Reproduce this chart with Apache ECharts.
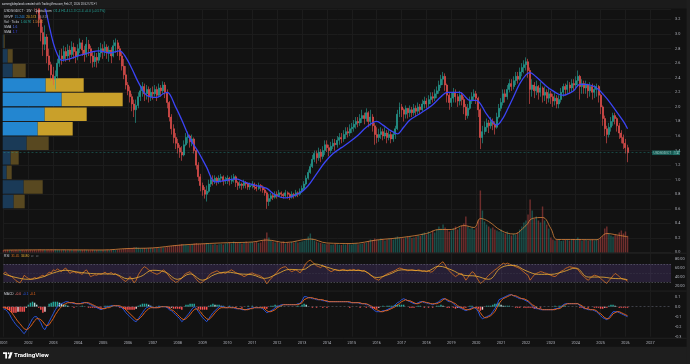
<!DOCTYPE html>
<html><head><meta charset="utf-8"><title>chart</title>
<script src="https://cdn.jsdelivr.net/npm/echarts@6.0.0/dist/echarts.min.js"></script>
<style>html,body{margin:0;padding:0;background:#121212;overflow:hidden}#chart{width:690px;height:364px}</style>
</head><body><div id="chart"></div>
<script>
// ---------------- data (monthly) ----------------
const symbolName = 'USDSGD/CT';
const firstOpen = 4.00;
const closes = [
3.95,3.90,3.82,3.86,3.78,3.74,3.70,3.66,3.72,3.64,3.60,3.58,
3.55,3.50,3.46,3.42,3.38,3.20,3.02,2.86,2.96,2.70,2.58,2.44,
2.38,2.42,2.60,2.70,2.66,2.76,2.70,2.78,2.72,2.82,2.76,2.70,
2.80,2.88,2.78,2.72,2.86,2.80,2.70,2.62,2.68,2.64,2.74,2.80,
2.76,2.82,2.74,2.78,2.70,2.84,2.88,2.80,2.70,2.56,2.44,2.30,
2.22,2.14,2.04,1.96,2.02,2.14,2.22,2.28,2.18,2.24,2.14,2.20,
2.18,2.24,2.16,2.26,2.22,2.30,2.20,2.06,1.86,1.70,1.58,1.50,
1.44,1.38,1.34,1.48,1.58,1.60,1.52,1.56,1.40,1.20,1.04,0.92,
0.86,0.80,0.84,0.94,1.00,0.98,1.02,0.98,1.02,1.04,0.98,1.00,
1.02,0.98,1.00,1.04,0.96,0.92,0.94,0.92,0.96,0.94,0.90,0.92,
0.94,0.90,0.88,0.92,0.90,0.86,0.82,0.70,0.74,0.78,0.76,0.80,
0.78,0.82,0.80,0.78,0.82,0.80,0.76,0.80,0.78,0.82,0.80,0.84,
0.88,0.94,1.02,1.10,1.18,1.28,1.36,1.30,1.38,1.32,1.40,1.48,
1.44,1.40,1.46,1.50,1.48,1.54,1.58,1.56,1.62,1.66,1.64,1.70,
1.72,1.76,1.80,1.78,1.84,1.88,1.84,1.92,1.80,1.86,1.74,1.62,
1.58,1.62,1.66,1.60,1.64,1.58,1.62,1.56,1.62,1.70,1.90,2.00,
1.96,1.90,1.98,1.92,1.96,1.92,1.98,1.94,2.00,1.96,2.04,2.08,
2.04,2.10,2.14,2.12,2.18,2.22,2.30,2.38,2.42,2.30,2.16,2.06,
2.12,2.20,2.14,2.08,2.16,2.10,2.00,1.88,1.98,2.08,2.14,2.18,
2.12,1.96,1.58,1.66,1.72,1.78,1.74,1.80,1.76,1.72,1.86,1.98,
2.06,2.18,2.14,2.24,2.32,2.28,2.36,2.42,2.38,2.48,2.54,2.58,
2.62,2.50,2.24,2.30,2.22,2.28,2.20,2.26,2.16,2.20,2.12,2.18,
2.14,2.08,2.12,2.04,2.10,2.20,2.28,2.24,2.30,2.26,2.32,2.30,
2.36,2.42,2.28,2.32,2.26,2.30,2.22,2.28,2.20,2.24,2.28,2.16,
2.00,1.84,1.70,1.62,1.72,1.80,1.88,1.84,1.74,1.64,1.58,1.50,
1.44,1.37];
const highs = [
4.05,4.00,3.95,3.95,3.90,3.84,3.80,3.76,3.80,3.76,3.70,3.68,
3.65,3.60,3.56,3.52,3.48,3.45,3.25,3.10,3.12,3.00,2.80,2.62,
2.55,2.50,2.66,2.78,2.80,2.84,2.82,2.86,2.84,2.90,2.88,2.82,
2.86,2.94,2.92,2.84,2.96,2.92,2.84,2.76,2.76,2.74,2.82,2.88,
2.86,2.90,2.86,2.84,2.82,2.92,2.94,2.92,2.84,2.76,2.66,2.56,
2.34,2.28,2.18,2.10,2.10,2.20,2.30,2.34,2.32,2.30,2.28,2.26,
2.28,2.30,2.28,2.32,2.30,2.35,2.34,2.24,2.08,1.90,1.76,1.64,
1.56,1.48,1.46,1.54,1.64,1.66,1.62,1.62,1.58,1.42,1.24,1.08,
0.96,0.90,0.92,1.00,1.06,1.06,1.06,1.04,1.06,1.08,1.06,1.04,
1.06,1.04,1.06,1.08,1.06,0.98,0.98,0.96,1.00,0.98,0.96,0.96,
0.98,0.96,0.94,0.96,0.94,0.92,0.90,0.84,0.80,0.82,0.82,0.84,
0.84,0.86,0.84,0.82,0.86,0.84,0.82,0.84,0.82,0.86,0.84,0.88,
0.92,0.98,1.06,1.14,1.22,1.34,1.40,1.40,1.44,1.42,1.46,1.54,
1.54,1.48,1.52,1.56,1.56,1.60,1.64,1.64,1.68,1.72,1.72,1.76,
1.78,1.82,1.86,1.86,1.90,1.96,1.92,1.98,1.94,1.96,1.90,1.78,
1.72,1.70,1.72,1.70,1.72,1.68,1.68,1.66,1.66,1.74,1.96,2.06,
2.04,1.98,2.02,1.98,2.02,2.00,2.04,2.02,2.06,2.04,2.10,2.14,
2.12,2.16,2.20,2.20,2.24,2.28,2.36,2.44,2.48,2.46,2.32,2.20,
2.20,2.26,2.24,2.18,2.22,2.20,2.14,2.04,2.04,2.14,2.20,2.24,
2.22,2.14,1.98,1.74,1.80,1.84,1.82,1.86,1.84,1.80,1.92,2.04,
2.12,2.24,2.24,2.30,2.38,2.38,2.42,2.48,2.48,2.54,2.60,2.64,
2.68,2.66,2.54,2.38,2.34,2.36,2.30,2.34,2.28,2.28,2.24,2.26,
2.22,2.18,2.20,2.16,2.16,2.26,2.32,2.32,2.36,2.34,2.38,2.38,
2.42,2.50,2.44,2.38,2.36,2.36,2.32,2.34,2.32,2.30,2.32,2.30,
2.18,2.02,1.88,1.74,1.78,1.86,1.92,1.92,1.86,1.78,1.68,1.62,
1.56,1.48];
const lows = [
3.85,3.82,3.74,3.76,3.70,3.66,3.62,3.58,3.62,3.56,3.52,3.50,
3.46,3.42,3.38,3.34,3.28,3.10,2.90,2.70,2.78,2.60,2.50,2.36,
2.30,2.24,2.38,2.55,2.58,2.62,2.62,2.64,2.62,2.68,2.66,2.60,
2.64,2.74,2.70,2.62,2.68,2.70,2.60,2.54,2.55,2.54,2.60,2.68,
2.66,2.70,2.66,2.62,2.60,2.68,2.74,2.70,2.64,2.50,2.38,2.24,
2.16,2.06,1.94,1.86,1.78,1.98,2.08,2.14,2.08,2.10,2.06,2.08,
2.10,2.14,2.08,2.14,2.14,2.18,2.12,1.98,1.80,1.62,1.50,1.42,
1.36,1.30,1.26,1.32,1.46,1.50,1.44,1.46,1.36,1.14,0.98,0.84,
0.78,0.74,0.70,0.82,0.90,0.92,0.94,0.92,0.94,0.96,0.92,0.94,
0.94,0.92,0.94,0.96,0.90,0.86,0.88,0.86,0.88,0.88,0.86,0.86,
0.88,0.86,0.84,0.86,0.84,0.82,0.78,0.60,0.64,0.70,0.72,0.74,
0.74,0.76,0.76,0.74,0.76,0.74,0.72,0.74,0.74,0.76,0.76,0.78,
0.82,0.86,0.92,1.00,1.08,1.16,1.24,1.22,1.26,1.24,1.28,1.34,
1.38,1.32,1.36,1.42,1.40,1.44,1.48,1.50,1.52,1.56,1.58,1.60,
1.64,1.66,1.70,1.72,1.74,1.78,1.76,1.80,1.72,1.74,1.66,1.48,
1.50,1.52,1.56,1.54,1.56,1.50,1.54,1.50,1.52,1.56,1.68,1.86,
1.86,1.80,1.84,1.84,1.86,1.86,1.88,1.86,1.90,1.90,1.94,1.98,
1.98,2.00,2.04,2.06,2.08,2.12,2.18,2.26,2.30,2.22,2.06,1.96,
2.00,2.06,2.06,2.00,2.02,2.02,1.90,1.82,1.84,1.96,2.04,2.08,
2.04,1.86,1.42,1.50,1.62,1.66,1.64,1.70,1.68,1.62,1.70,1.84,
1.94,2.02,2.06,2.10,2.20,2.22,2.24,2.30,2.32,2.36,2.42,2.46,
2.50,2.40,2.04,2.14,2.12,2.16,2.10,2.14,2.06,2.08,2.04,2.06,
2.04,2.00,2.02,1.98,1.98,2.06,2.14,2.16,2.18,2.18,2.20,2.22,
2.24,2.28,2.10,2.18,2.18,2.18,2.12,2.14,2.10,2.12,2.14,2.06,
1.90,1.74,1.60,1.50,1.58,1.66,1.74,1.76,1.66,1.56,1.50,1.42,
1.36,1.24];
const volumes = [
250,220,260,230,240,210,250,230,260,240,220,250,
230,260,240,250,220,270,300,260,280,250,270,290,
280,300,260,250,240,270,250,230,260,240,250,270,
260,240,250,280,260,240,230,260,250,240,260,250,
260,250,270,240,260,280,260,270,300,320,350,380,
420,400,450,520,560,480,430,410,450,420,440,460,
450,430,460,440,470,500,520,560,600,650,700,720,
750,780,850,800,760,720,780,820,900,950,880,850,
900,860,950,880,820,800,850,780,820,860,800,900,
950,1000,900,1100,1000,950,1050,900,1000,1100,950,1000,
1050,1000,1100,950,1000,1200,1400,2000,1500,1200,1100,1000,
1050,950,1000,1100,900,1000,950,1050,1000,1100,1000,1050,
1100,1200,1300,1600,1900,1400,1200,1100,1000,950,900,850,
820,860,780,800,850,820,780,760,820,800,850,820,
800,850,900,820,860,900,950,1000,1150,1300,1250,1400,
1300,1250,1400,1350,1200,1300,1400,1350,1300,1500,1600,1450,
1500,1400,1500,1600,1550,1450,1500,1600,1700,1650,1900,2000,
1800,2100,1900,2200,2000,2300,2600,2400,2800,2500,2300,2100,
2200,2400,2600,2300,2500,2700,2900,3600,2600,2400,2500,2300,
2500,3200,6200,4200,3100,2800,2600,2400,2500,2300,2200,2100,
2300,2000,1900,2100,1800,1700,1900,1800,2000,2300,2600,3000,
3200,3800,5300,4200,3400,3600,3200,3000,4600,3200,2800,2400,
1500,1300,1200,1250,1300,1150,1200,1300,1250,1200,1300,1350,
1300,1500,1350,1200,1250,1300,1200,1250,1300,1200,1350,1300,
1500,1700,2400,2600,1900,1700,1600,1800,1700,2000,2200,1900,
2100,1667];
const volMaMonths = ['2001-01','2003-01','2005-01','2006-01','2007-01','2008-01','2009-01','2010-01','2011-01','2011-08','2012-05','2013-05','2014-01','2015-01','2016-01','2017-01','2018-01','2018-07','2019-01','2019-07','2019-12','2020-03','2020-07','2021-01','2021-07','2022-01','2022-04','2022-09','2023-01','2023-04','2024-01','2024-11','2025-04','2025-09','2026-02'];
const volMaValues = [240,270,255,400,460,720,870,980,1050,1250,1000,1350,950,900,1250,1500,1900,2300,2300,2700,2500,3400,3100,2200,1850,2700,3400,3500,2400,1300,1300,1280,1900,1750,1568];
const smaMonths = ['2002-07','2002-09','2002-11','2003-01','2003-03','2003-05','2003-09','2004-01','2004-07','2004-11','2005-04','2005-09','2005-12','2006-03','2006-06','2006-10','2007-03','2007-06','2007-08','2007-12','2008-03','2008-07','2008-11','2009-03','2009-07','2009-12','2010-05','2010-10','2011-04','2011-08','2011-12','2012-05','2012-12','2013-04','2013-08','2013-12','2014-04','2014-08','2014-12','2015-04','2015-08','2016-01','2016-04','2016-08','2016-11','2017-02','2017-05','2017-10','2018-04','2018-08','2018-11','2019-05','2019-10','2020-01','2020-06','2020-09','2020-11','2021-02','2021-04','2021-07','2021-10','2022-01','2022-03','2022-06','2022-08','2022-11','2023-02','2023-05','2023-07','2023-10','2023-12','2024-03','2024-06','2024-09','2024-12','2025-02','2025-05','2025-09','2025-12','2026-02'];
const smaValues = [3.62,3.38,3.12,2.88,2.72,2.64,2.66,2.70,2.75,2.77,2.74,2.77,2.68,2.52,2.34,2.16,2.13,2.18,2.20,2.00,1.82,1.56,1.38,1.17,0.97,0.99,1.01,0.96,0.91,0.88,0.79,0.75,0.82,0.92,1.08,1.24,1.36,1.44,1.52,1.61,1.72,1.80,1.75,1.67,1.63,1.72,1.82,1.91,2.03,2.14,2.20,2.20,2.09,2.09,1.90,1.79,1.75,1.85,1.96,2.14,2.32,2.44,2.47,2.41,2.36,2.28,2.22,2.17,2.16,2.19,2.22,2.31,2.31,2.29,2.24,2.18,2.08,1.92,1.80,1.70];
const rsi = [
49,52,47,44,42,38,33,30,28,36,45,41,
38,36,37,40,38,40,43,45,42,47,52,50,
57,55,59,56,53,58,61,55,49,52,53,50,
51,49,47,54,57,50,42,44,46,45,48,47,
49,52,48,49,51,47,49,45,42,38,34,31,
36,42,36,28,34,46,53,60,64,61,57,54,
51,49,47,49,52,57,54,48,42,36,33,29,
31,35,38,45,49,51,53,48,42,36,31,28,
30,34,38,44,49,51,53,55,52,49,51,49,
52,55,57,54,51,49,47,45,42,44,47,49,
50,48,46,45,43,40,34,26,32,38,42,47,
52,58,61,63,64,60,56,53,55,57,54,50,
56,64,72,76,79,74,70,66,64,62,66,64,
60,56,53,55,58,56,55,57,58,56,55,57,
56,58,55,57,56,54,56,52,49,45,42,38,
36,34,38,42,45,48,50,52,54,56,59,61,
60,58,57,55,56,57,56,55,57,56,54,55,
53,54,52,53,58,63,68,72,75,68,60,55,
50,46,42,45,48,49,42,34,40,47,53,50,
42,34,27,30,34,40,45,49,53,57,60,64,
68,72,70,72,70,68,66,64,62,60,56,52,
48,45,34,40,46,49,51,53,52,50,49,47,
45,43,42,45,50,54,56,60,62,64,63,62,
60,58,52,46,42,37,34,38,43,45,44,42,
38,34,30,27,33,38,44,49,46,42,38,36,
35,31.45];
const rsiMaMonths = ['2001-01','2001-07','2002-01','2002-07','2003-01','2003-07','2004-01','2004-07','2005-01','2005-07','2006-01','2006-07','2007-01','2007-07','2008-01','2008-07','2009-01','2009-07','2010-01','2010-07','2011-01','2011-07','2012-01','2012-07','2013-01','2013-07','2014-01','2014-07','2015-01','2015-07','2016-01','2016-07','2017-01','2017-07','2018-01','2018-07','2019-01','2019-07','2020-01','2020-07','2021-01','2021-07','2022-01','2022-07','2023-01','2023-07','2024-01','2024-07','2025-01','2025-07','2025-12','2026-02'];
const rsiMaValues = [48,40,36,40,50,56,52,49,48,47,37,42,56,52,36,48,34,47,52,48,46,38,48,58,57,70,63,56,56,54,40,47,57,56,54,65,57,45,43,36,62,67,55,47,47,53,61,41,41,38,37,34.8];
const macd = [
-0.02,-0.03,-0.05,-0.08,-0.12,-0.15,-0.18,-0.20,-0.22,-0.25,-0.27,-0.24,
-0.20,-0.16,-0.12,-0.10,-0.10,-0.13,-0.16,-0.21,-0.23,-0.19,-0.15,-0.11,
-0.07,-0.03,0.00,0.02,0.03,0.04,0.05,0.05,0.04,0.04,0.03,0.03,
0.03,0.03,0.04,0.04,0.04,0.03,0.02,0.01,0.00,-0.01,-0.02,-0.03,
-0.02,-0.01,0.00,0.00,0.01,0.01,0.01,0.01,0.00,-0.01,-0.03,-0.06,
-0.08,-0.10,-0.12,-0.14,-0.15,-0.12,-0.09,-0.06,-0.03,-0.01,0.00,0.00,
-0.01,-0.01,-0.01,0.00,0.00,0.00,0.00,-0.01,-0.03,-0.04,-0.06,-0.08,
-0.10,-0.12,-0.15,-0.13,-0.10,-0.08,-0.05,-0.02,0.00,-0.02,-0.05,-0.08,
-0.11,-0.13,-0.15,-0.12,-0.09,-0.06,-0.04,-0.02,0.00,0.00,0.00,-0.01,
-0.01,0.00,-0.01,-0.01,-0.02,-0.02,-0.02,-0.03,-0.03,-0.03,-0.02,-0.02,
-0.01,-0.01,-0.01,-0.01,-0.01,-0.02,-0.04,-0.06,-0.05,-0.04,-0.03,-0.01,
0.00,0.01,0.02,0.02,0.02,0.02,0.02,0.02,0.02,0.02,0.03,0.03,
0.06,0.10,0.10,0.09,0.09,0.08,0.08,0.07,0.07,0.07,0.06,0.06,
0.05,0.05,0.05,0.05,0.05,0.05,0.05,0.05,0.05,0.05,0.05,0.04,
0.04,0.04,0.04,0.04,0.03,0.03,0.03,0.02,0.02,0.00,-0.02,-0.04,
-0.05,-0.05,-0.05,-0.04,-0.04,-0.03,-0.02,-0.01,0.00,0.02,0.04,0.05,
0.07,0.08,0.07,0.06,0.05,0.04,0.03,0.03,0.04,0.05,0.05,0.04,
0.04,0.03,0.03,0.02,0.03,0.04,0.05,0.07,0.08,0.08,0.06,0.05,
0.05,0.03,0.01,0.00,-0.01,-0.02,-0.03,-0.04,-0.03,-0.02,-0.01,-0.01,
-0.02,-0.05,-0.10,-0.12,-0.11,-0.10,-0.09,-0.08,-0.05,-0.02,0.02,0.07,
0.08,0.09,0.10,0.11,0.12,0.12,0.11,0.10,0.09,0.08,0.08,0.07,
0.06,0.05,0.03,0.01,-0.01,-0.02,-0.02,-0.03,-0.03,-0.03,-0.03,-0.03,
-0.03,-0.03,-0.02,-0.02,-0.01,0.00,0.02,0.03,0.03,0.03,0.03,0.03,
0.03,0.03,0.01,0.00,-0.02,-0.02,-0.03,-0.03,-0.03,-0.04,-0.05,-0.07,
-0.09,-0.11,-0.12,-0.13,-0.11,-0.08,-0.05,-0.05,-0.05,-0.06,-0.07,-0.08,
-0.09,-0.10];
const macdSignal = [
-0.01,-0.01,-0.02,-0.04,-0.06,-0.09,-0.12,-0.15,-0.17,-0.20,-0.22,-0.23,
-0.22,-0.20,-0.17,-0.14,-0.12,-0.12,-0.13,-0.15,-0.18,-0.19,-0.18,-0.15,
-0.12,-0.08,-0.05,-0.02,0.00,0.02,0.03,0.04,0.04,0.04,0.04,0.03,
0.03,0.03,0.03,0.04,0.04,0.04,0.03,0.02,0.01,0.00,-0.01,-0.02,
-0.02,-0.02,-0.01,-0.01,0.00,0.01,0.01,0.01,0.01,0.00,-0.01,-0.03,
-0.05,-0.07,-0.09,-0.11,-0.13,-0.13,-0.11,-0.09,-0.06,-0.04,-0.02,-0.01,
-0.01,-0.01,-0.01,-0.01,0.00,0.00,0.00,0.00,-0.01,-0.03,-0.04,-0.06,
-0.08,-0.10,-0.12,-0.13,-0.12,-0.10,-0.08,-0.05,-0.03,-0.02,-0.03,-0.05,
-0.08,-0.10,-0.12,-0.13,-0.11,-0.09,-0.06,-0.04,-0.02,-0.01,-0.01,-0.01,
-0.01,-0.01,-0.01,-0.01,-0.01,-0.02,-0.02,-0.02,-0.03,-0.03,-0.03,-0.02,
-0.02,-0.01,-0.01,-0.01,-0.01,-0.01,-0.02,-0.04,-0.05,-0.05,-0.04,-0.03,
-0.01,0.00,0.01,0.02,0.02,0.02,0.02,0.02,0.02,0.02,0.02,0.03,
0.04,0.07,0.08,0.09,0.09,0.09,0.08,0.08,0.07,0.07,0.07,0.06,
0.06,0.05,0.05,0.05,0.05,0.05,0.05,0.05,0.05,0.05,0.05,0.05,
0.04,0.04,0.04,0.04,0.04,0.03,0.03,0.03,0.02,0.01,0.00,-0.02,
-0.03,-0.04,-0.05,-0.05,-0.04,-0.04,-0.03,-0.02,-0.01,0.00,0.02,0.03,
0.05,0.06,0.07,0.06,0.06,0.05,0.04,0.03,0.03,0.04,0.05,0.05,
0.04,0.04,0.03,0.03,0.03,0.03,0.04,0.05,0.07,0.08,0.07,0.06,
0.05,0.04,0.03,0.01,0.00,-0.01,-0.02,-0.03,-0.03,-0.03,-0.02,-0.01,
-0.01,-0.03,-0.06,-0.09,-0.11,-0.11,-0.10,-0.09,-0.07,-0.05,-0.01,0.03,
0.06,0.08,0.09,0.10,0.11,0.12,0.11,0.11,0.10,0.09,0.08,0.08,
0.07,0.06,0.04,0.02,0.01,-0.01,-0.02,-0.02,-0.03,-0.03,-0.03,-0.03,
-0.03,-0.03,-0.03,-0.02,-0.02,-0.01,0.01,0.02,0.03,0.03,0.03,0.03,
0.03,0.03,0.02,0.01,-0.01,-0.02,-0.02,-0.03,-0.03,-0.03,-0.04,-0.06,
-0.07,-0.09,-0.11,-0.12,-0.12,-0.10,-0.07,-0.06,-0.05,-0.05,-0.06,-0.07,
-0.08,-0.09];
// visible-range volume profile, 0.2-wide price rows from 0.0 to 3.2
const profileBins = ['0.0','0.2','0.4','0.6','0.8','1.0','1.2','1.4','1.6','1.8','2.0','2.2','2.4','2.6','2.8','3.0'];
const profileUp   = [0,0,0,11,21,4,8,24,35,42,59,43,10,5,1,0];
const profileDown = [0,0,0,11,19,5,8,22,35,42,61,38,13,5,1,0];
const valueArea = [1.6, 2.4];

// ---------------- build ----------------
const months = [];
for (let y = 2001; y <= 2027; y++) for (let m = 1; m <= 12; m++) {
  if (y === 2027 && m === 12) break;
  months.push(y + '-' + String(m).padStart(2, '0'));
}
const candles = closes.map((c, i) => [i === 0 ? firstOpen : closes[i - 1], c, lows[i], highs[i]]);
const volData = volumes.map((v, i) => ({ value: v, itemStyle: { color: candles[i][1] >= candles[i][0] ? 'rgba(38,166,154,0.42)' : 'rgba(239,83,80,0.42)' } }));
const hist = macd.map((v, i) => +(v - macdSignal[i]).toFixed(3));
const histData = hist.map((h, i) => {
  const p = i > 0 ? hist[i - 1] : 0;
  const c = h >= 0 ? (h >= p ? '#26a69a' : '#b2dfdb') : (h <= p ? '#ff5252' : '#ffcdd2');
  return { value: h, itemStyle: { color: c } };
});
const pair = (ms, vs) => ms.map((m, i) => [m, vs[i]]);
const inVA = i => { const b = parseFloat(profileBins[i]); return b >= valueArea[0] - 1e-9 && b < valueArea[1] - 1e-9; };
const profUpData = profileUp.map((v, i) => ({ value: v, itemStyle: { color: inVA(i) ? '#2386d0' : '#1a3a57' } }));
const profDownData = profileDown.map((v, i) => ({ value: v, itemStyle: { color: inVA(i) ? '#c9a02a' : '#584820' } }));
const lastClose = closes[closes.length - 1];

const gridColor = '#1c1c1c';
const labelColor = '#b2b5be';
const FONT = 'Roboto, "Noto Sans", sans-serif';
const isJan = (i, v) => typeof v === 'string' && v.endsWith('-01');
const catAxis = (gi, extra) => Object.assign({
  type: 'category', gridIndex: gi, data: months, boundaryGap: false,
  axisLine: { show: false }, axisTick: { show: false }, axisLabel: { show: false }, splitLine: { show: false }
}, extra || {});
const vSplit = { show: true, interval: isJan, lineStyle: { color: gridColor, width: 1 } };
const near = (v, step) => { const r = Math.round(v / step) * step; return Math.abs(v - r) < 1e-6 ? r : null; };

const option = {
  animation: false,
  backgroundColor: '#121212',
  textStyle: { fontFamily: FONT },
  grid: [
    { left: 3.5, right: 18.9, top: 9, height: 243.5, outerBoundsMode: 'none' },
    { left: 3.5, right: 18.9, top: 9, height: 243.5, outerBoundsMode: 'none' },
    { left: 2.7, width: 669, top: 19.5, height: 233, outerBoundsMode: 'none' },
    { left: 3.5, right: 18.9, top: 253.5, height: 37.5, outerBoundsMode: 'none' },
    { left: 3.5, right: 18.9, top: 291.7, height: 45, outerBoundsMode: 'none' }
  ],
  xAxis: [
    catAxis(0, { splitLine: vSplit }),
    catAxis(1),
    { type: 'value', gridIndex: 2, min: 0, max: 669, show: false },
    catAxis(3, { splitLine: vSplit }),
    catAxis(4, { splitLine: vSplit, axisLabel: { show: true, interval: isJan, formatter: v => v.slice(0, 4), color: labelColor, fontSize: 3.8, margin: 4 } })
  ],
  yAxis: [
    { type: 'value', gridIndex: 0, position: 'right', min: 0, max: 3.3443, interval: 0.2,
      axisLine: { show: false }, axisTick: { show: false },
      splitLine: { lineStyle: { color: gridColor } },
      axisLabel: { color: labelColor, fontSize: 3.8, margin: 4, formatter: v => { const r = near(v, 0.2); return r === null ? '' : r.toFixed(1); } } },
    { type: 'value', gridIndex: 1, min: 0, max: 24350, show: false },
    { type: 'category', gridIndex: 2, data: profileBins, show: false },
    { type: 'value', gridIndex: 3, position: 'right', min: 10, max: 93.33, interval: 10,
      axisLine: { show: false }, axisTick: { show: false }, splitLine: { show: false },
      axisLabel: { color: labelColor, fontSize: 3.8, margin: 4, formatter: v => { const r = near(v, 20); return (r === null || r < 20 || r > 80) ? '' : r.toFixed(2); } } },
    { type: 'value', gridIndex: 4, position: 'right', min: -0.3, max: 0.15, interval: 0.1,
      axisLine: { show: false }, axisTick: { show: false }, splitLine: { show: false },
      axisLabel: { color: labelColor, fontSize: 3.8, margin: 4, formatter: v => { const r = near(v, 0.1); return r === null ? '' : (Math.abs(r) < 1e-9 ? '0.0' : r.toFixed(1)); } } }
  ],
  series: [
    { name: 'VRVP up', type: 'bar', xAxisIndex: 2, yAxisIndex: 2, stack: 'vp', data: profUpData, barCategoryGap: '7%', z: 1, silent: true },
    { name: 'VRVP down', type: 'bar', xAxisIndex: 2, yAxisIndex: 2, stack: 'vp', data: profDownData, barCategoryGap: '7%', z: 1, silent: true },
    { name: 'Vol', type: 'bar', xAxisIndex: 1, yAxisIndex: 1, data: volData, barWidth: '70%', z: 2, silent: true },
    { name: 'Vol MA', type: 'line', xAxisIndex: 1, yAxisIndex: 1, data: pair(volMaMonths, volMaValues), smooth: 0.4, showSymbol: false, lineStyle: { color: '#d9843c', width: 0.8 }, z: 3 },
    { name: 'Price', type: 'candlestick', xAxisIndex: 0, yAxisIndex: 0, data: candles, barWidth: '72%', z: 4, clip: true,
      itemStyle: { color: '#26a69a', color0: '#ef5350', borderColor: '#26a69a', borderColor0: '#ef5350', borderWidth: 0.6 },
      markLine: { silent: true, symbol: ['none', 'none'], animation: false, data: [{ yAxis: lastClose }],
        lineStyle: { color: '#26a69a', type: [2, 2], width: 0.6, opacity: 0.6 },
        label: { show: true, position: 'end', distance: -19, formatter: () => '{n|' + symbolName + '}{p|' + lastClose.toFixed(1) + '}',
          rich: { n: { backgroundColor: '#1d8d82', color: '#e6f4f2', fontSize: 3.2, padding: [0.8, 1.5] },
                  p: { backgroundColor: '#26a69a', color: '#ffffff', fontSize: 3.2, padding: [0.8, 1.5] } } } } },
    { name: 'SMA', type: 'line', xAxisIndex: 0, yAxisIndex: 0, data: pair(smaMonths, smaValues), smooth: 0.35, showSymbol: false, clip: true, lineStyle: { color: '#3b44f6', width: 1.3 }, z: 5 },
    { name: 'RSI', type: 'line', xAxisIndex: 3, yAxisIndex: 3, data: rsi, showSymbol: false, lineStyle: { color: '#dd7420', width: 0.8 }, z: 3,
      markArea: { silent: true, itemStyle: { color: 'rgba(126,87,194,0.2)' }, data: [[{ yAxis: 30 }, { yAxis: 70 }]] },
      markLine: { silent: true, symbol: ['none', 'none'], label: { show: false },
        data: [{ yAxis: 70, lineStyle: { type: [1.5, 1.5] } }, { yAxis: 50, lineStyle: { type: [1, 2], opacity: 0.35 } }, { yAxis: 30, lineStyle: { type: [1.5, 1.5] } }],
        lineStyle: { color: '#787b86', width: 0.7, opacity: 0.7 } } },
    { name: 'RSI MA', type: 'line', xAxisIndex: 3, yAxisIndex: 3, data: pair(rsiMaMonths, rsiMaValues), smooth: 0.4, showSymbol: false, lineStyle: { color: '#f2b233', width: 0.8 }, z: 4 },
    { name: 'Histogram', type: 'bar', xAxisIndex: 4, yAxisIndex: 4, data: histData, barWidth: '70%', z: 2,
      markLine: { silent: true, symbol: ['none', 'none'], label: { show: false }, data: [{ yAxis: 0 }], lineStyle: { color: '#5d606b', type: [2, 2], width: 0.6 } } },
    { name: 'MACD', type: 'line', xAxisIndex: 4, yAxisIndex: 4, data: macd, showSymbol: false, lineStyle: { color: '#2a5bf0', width: 0.9 }, z: 3 },
    { name: 'Signal', type: 'line', xAxisIndex: 4, yAxisIndex: 4, data: macdSignal, showSymbol: false, lineStyle: { color: '#f06a1c', width: 0.9 }, z: 4 }
  ],
  graphic: [
    { type: 'rect', z: 100, shape: { x: 0, y: 0, width: 690, height: 8.5 }, style: { fill: '#1b1b1b' } },
    { type: 'text', z: 101, x: 2, y: 4.3, style: { text: 'sammyjbdeplanck created with TradingView.com, Feb 21, 2026 20:52 UTC+1', fill: '#d1d4dc', fontSize: 2.8, fontFamily: FONT, verticalAlign: 'middle' } },
    { type: 'rect', z: 100, shape: { x: 0, y: 346.8, width: 690, height: 17.2 }, style: { fill: '#1e1e1e' } },
    { type: 'rect', z: 100, shape: { x: 686.6, y: 0, width: 3.4, height: 364 }, style: { fill: '#1e1e1e' } },
    { type: 'line', z: 100, shape: { x1: 0, y1: 253.2, x2: 686.6, y2: 253.2 }, style: { stroke: '#262626', lineWidth: 0.8 } },
    { type: 'line', z: 100, shape: { x1: 0, y1: 291.1, x2: 686.6, y2: 291.1 }, style: { stroke: '#262626', lineWidth: 0.8 } },
    { type: 'line', z: 100, shape: { x1: 0, y1: 338.3, x2: 686.6, y2: 338.3 }, style: { stroke: '#262626', lineWidth: 0.8 } },
    { type: 'text', z: 101, x: 4, y: 11.4, style: { text: '{w|' + symbolName + ' · 1W · Capital.com}  {t|O1.4 H1.4 L1.3 C1.4 +0.0 (+0.57%)}', verticalAlign: 'middle', fontFamily: FONT, fontSize: 3.3,
      rich: { w: { fill: '#d1d4dc', fontSize: 3.3 }, t: { fill: '#26a69a', fontSize: 3.3 } } } },
    { type: 'text', z: 101, x: 4, y: 16.6, style: { text: '{w|VRVP}  {b|15.244}  {y|20.574}  {g|35.818}', verticalAlign: 'middle', fontFamily: FONT, fontSize: 3.3,
      rich: { w: { fill: '#d1d4dc', fontSize: 3.3 }, b: { fill: '#2a8be0', fontSize: 3.3 }, y: { fill: '#e0a82a', fontSize: 3.3 }, g: { fill: '#8a8d96', fontSize: 3.3 } } } },
    { type: 'text', z: 101, x: 4, y: 21.7, style: { text: '{w|Vol · Ticks}  {t|1.667K}  {o|1.568K}', verticalAlign: 'middle', fontFamily: FONT, fontSize: 3.3,
      rich: { w: { fill: '#d1d4dc', fontSize: 3.3 }, t: { fill: '#26a69a', fontSize: 3.3 }, o: { fill: '#e08a3c', fontSize: 3.3 } } } },
    { type: 'text', z: 101, x: 4, y: 26.7, style: { text: '{w|SMA}  {b|1.6}', verticalAlign: 'middle', fontFamily: FONT, fontSize: 3.3,
      rich: { w: { fill: '#d1d4dc', fontSize: 3.3 }, b: { fill: '#4b6bff', fontSize: 3.3 } } } },
    { type: 'text', z: 101, x: 4, y: 31.7, style: { text: '{w|SMA}  {b|1.7}', verticalAlign: 'middle', fontFamily: FONT, fontSize: 3.3,
      rich: { w: { fill: '#d1d4dc', fontSize: 3.3 }, b: { fill: '#3b44f6', fontSize: 3.3 } } } },
    { type: 'text', z: 101, x: 4, y: 256.4, style: { text: '{w|RSI}  {o|31.45}  {y|34.80}  {g|∅  ∅}', verticalAlign: 'middle', fontFamily: FONT, fontSize: 3.3,
      rich: { w: { fill: '#d1d4dc', fontSize: 3.3 }, o: { fill: '#dd7420', fontSize: 3.3 }, y: { fill: '#f2b233', fontSize: 3.3 }, g: { fill: '#8a8d96', fontSize: 3.3 } } } },
    { type: 'text', z: 101, x: 4, y: 293.6, style: { text: '{w|MACD}  {r|-0.0}  {b|-0.1}  {o|-0.1}', verticalAlign: 'middle', fontFamily: FONT, fontSize: 3.3,
      rich: { w: { fill: '#d1d4dc', fontSize: 3.3 }, r: { fill: '#ff7b7b', fontSize: 3.3 }, b: { fill: '#2a5bf0', fontSize: 3.3 }, o: { fill: '#f06a1c', fontSize: 3.3 } } } },
    { type: 'polygon', z: 101, shape: { points: [[3, 352.3], [7, 352.3], [7, 358.6], [5.3, 358.6], [5.3, 354.0], [3, 354.0]] }, style: { fill: '#ffffff' } },
    { type: 'circle', z: 101, shape: { cx: 8.6, cy: 353.3, r: 0.95 }, style: { fill: '#ffffff' } },
    { type: 'polygon', z: 101, shape: { points: [[10.2, 352.3], [12.6, 352.3], [10.4, 358.6], [8.0, 358.6]] }, style: { fill: '#ffffff' } },
    { type: 'text', z: 101, x: 14, y: 355.6, style: { text: 'TradingView', fill: '#ffffff', fontSize: 6.2, fontWeight: 'bold', fontFamily: FONT, verticalAlign: 'middle' } }
  ]
};
const chart = echarts.init(document.getElementById('chart'), null, { renderer: 'canvas' });
chart.setOption(option);
</script>
</body></html>
